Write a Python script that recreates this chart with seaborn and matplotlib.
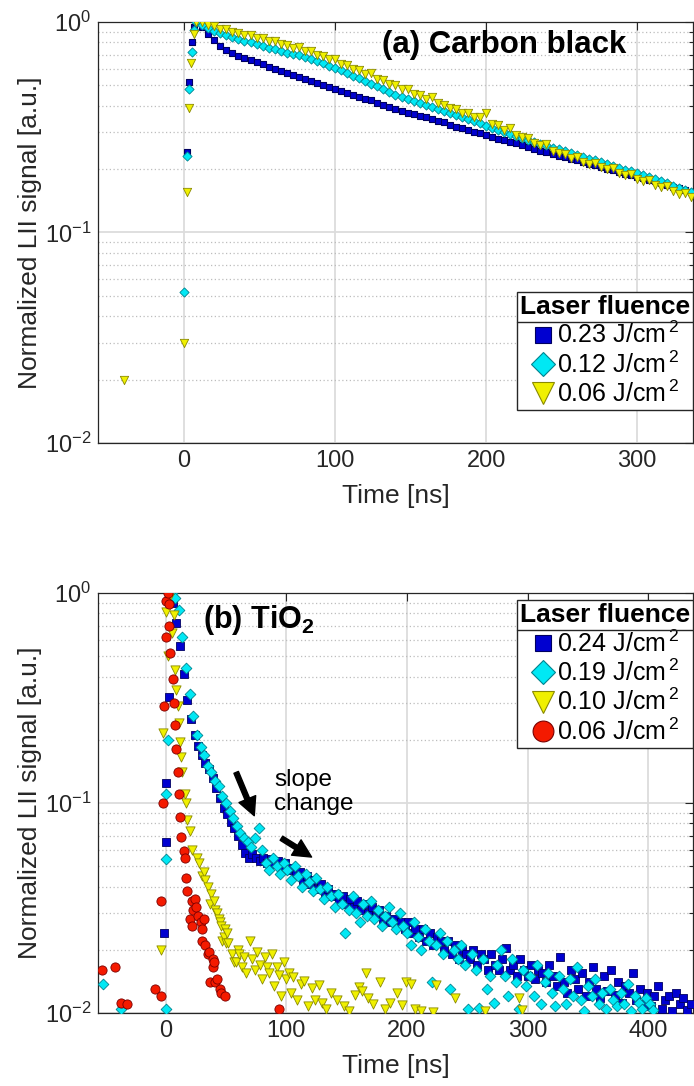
import numpy as np
import matplotlib
matplotlib.use("Agg")
import matplotlib.pyplot as plt
import seaborn as sns
from matplotlib.lines import Line2D
from matplotlib.ticker import LogLocator, NullFormatter, FixedLocator

# ---------------- (a) Carbon black ----------------
# decay part, one value every 4 ns starting at 8 ns
cb_start, cb_step = 8, 4
cb_023 = [1.0, 0.95, 0.88, 0.82, 0.77, 0.735, 0.71, 0.69, 0.675, 0.66, 0.645, 0.63, 0.612, 0.597,
          0.585, 0.57, 0.562, 0.55, 0.537, 0.525, 0.512, 0.50, 0.49, 0.48,
          0.47, 0.46, 0.452, 0.44, 0.432, 0.424, 0.412, 0.402, 0.393, 0.386, 0.377, 0.37, 0.364,
          0.356, 0.352, 0.345, 0.337, 0.333, 0.325, 0.318, 0.312, 0.307, 0.30, 0.296, 0.29,
          0.285, 0.279, 0.275, 0.269, 0.265, 0.259, 0.254, 0.25, 0.245, 0.241, 0.236, 0.232, 0.228,
          0.224, 0.221, 0.216, 0.212, 0.209, 0.204, 0.201, 0.197, 0.194, 0.19, 0.187, 0.184,
          0.181, 0.177, 0.175, 0.171, 0.168, 0.165, 0.162, 0.159, 0.156]
cb_012 = [1.0, 0.97, 0.94, 0.91, 0.89, 0.87, 0.85, 0.83, 0.815, 0.80, 0.785, 0.77, 0.755, 0.74,
          0.725, 0.715, 0.705, 0.695, 0.68, 0.665, 0.65, 0.635, 0.62, 0.605,
          0.588, 0.571, 0.555, 0.539, 0.523, 0.508, 0.494, 0.479, 0.466, 0.452, 0.44, 0.43, 0.421,
          0.412, 0.403, 0.394, 0.385, 0.377, 0.368, 0.36, 0.352, 0.345, 0.337, 0.33, 0.322,
          0.313, 0.307, 0.30, 0.294, 0.288, 0.282, 0.276, 0.27, 0.264, 0.259, 0.253, 0.248, 0.243,
          0.238, 0.233, 0.229, 0.224, 0.22, 0.215, 0.211, 0.207, 0.203, 0.199, 0.195, 0.191,
          0.187, 0.183, 0.179, 0.175, 0.171, 0.167, 0.163, 0.159, 0.155]
cb_006 = [1.0, 1.0, 0.97, 0.96, 0.93, 0.93, 0.90, 0.89, 0.87, 0.865, 0.84, 0.84, 0.81, 0.81,
          0.785, 0.78, 0.755, 0.76, 0.73, 0.725, 0.70, 0.69, 0.67, 0.665,
          0.632, 0.625, 0.597, 0.59, 0.565, 0.57, 0.534, 0.53, 0.505, 0.50, 0.478, 0.48, 0.454,
          0.45, 0.432, 0.44, 0.411, 0.405, 0.39, 0.385, 0.371, 0.37, 0.353, 0.355, 0.37,
          0.326, 0.325, 0.308, 0.312, 0.291, 0.283, 0.282, 0.267, 0.26, 0.262, 0.245, 0.238, 0.236,
          0.227, 0.228, 0.217, 0.212, 0.214, 0.204, 0.2, 0.202, 0.192, 0.188, 0.19, 0.18,
          0.176, 0.177, 0.168, 0.164, 0.166, 0.157, 0.153, 0.154, 0.147]
# rising edge / early points
cb_023_rise_t = [2, 3.3, 5, 6.5]
cb_023_rise_v = [0.24, 0.52, 0.80, 0.95]
cb_012_rise_t = [0, 2, 3.3, 5, 6.5]
cb_012_rise_v = [0.052, 0.23, 0.48, 0.72, 0.92]
cb_006_rise_t = [-40, 0, 2, 3.3, 4.5, 6.5]
cb_006_rise_v = [0.020, 0.030, 0.155, 0.39, 0.64, 0.88]
cb_labels = ["0.23 J/cm$^{\\,2}$", "0.12 J/cm$^{\\,2}$", "0.06 J/cm$^{\\,2}$"]

# ---------------- (b) TiO2 ----------------
# 0.24 J/cm2: one value every 3 ns starting at 3 ns
ti_024_start, ti_024_step = 3, 3
ti_024 = [1.0, 0.9, 0.72, 0.56, 0.41, 0.31, 0.25, 0.21, 0.186, 0.17, 0.155, 0.146, 0.131, 0.118,
          0.106, 0.095, 0.089, 0.081, 0.076, 0.07, 0.063, 0.058, 0.055, 0.057, 0.055, 0.053, 0.055,
          0.052, 0.054, 0.051, 0.053, 0.05, 0.052, 0.048, 0.049, 0.046, 0.047, 0.043, 0.045, 0.041,
          0.043, 0.039, 0.041, 0.037, 0.039, 0.036, 0.037, 0.034, 0.036, 0.033, 0.035, 0.032, 0.034,
          0.031, 0.033, 0.030, 0.032, 0.029, 0.031, 0.028, 0.029, 0.027, 0.028, 0.026, 0.027, 0.025,
          0.027, 0.024, 0.025, 0.023, 0.025, 0.022, 0.024, 0.021, 0.023, 0.022, 0.020, 0.022, 0.019,
          0.021, 0.018, 0.020, 0.019, 0.018, 0.020, 0.017, 0.019, 0.018, 0.016, 0.019, 0.017, 0.016,
          0.018, 0.0205, 0.016, 0.017, 0.015, 0.018, 0.016, 0.015, 0.017, 0.0145, 0.016, 0.0155,
          0.014, 0.017, 0.015, 0.0135, 0.0185, 0.014, 0.0125, 0.016, 0.0145, 0.013, 0.0155, 0.012,
          0.014, 0.0165, 0.013, 0.0118, 0.015, 0.0128, 0.016, 0.0122, 0.014, 0.0112, 0.0135, 0.0125,
          0.0155, 0.0115, 0.013, 0.011, 0.0125, 0.0108, 0.012, 0.0135, 0.0105, 0.0115, 0.012,
          0.0102, 0.0125, 0.011, 0.0118, 0.0103, 0.011]
ti_024_pre_t = [-1, 0, 0, 2.5]
ti_024_pre_v = [0.024, 0.065, 0.124, 0.32]
# 0.19 J/cm2: one value every 3 ns starting at 5 ns
ti_019_start, ti_019_step = 5, 3
ti_019 = [1.0, 0.95, 0.83, 0.62, 0.44, 0.33, 0.26, 0.21, 0.185, 0.17, 0.15, 0.14, 0.128, 0.12,
          0.108, 0.1, 0.092, 0.085, 0.078, 0.072, 0.068, 0.065, 0.062, 0.068, 0.076, 0.06, 0.052,
          0.048, 0.055, 0.05, 0.046, 0.052, 0.048, 0.043, 0.05, 0.045, 0.04, 0.046, 0.042, 0.038,
          0.044, 0.039, 0.035, 0.04, 0.036, 0.032, 0.037, 0.033, 0.024, 0.031, 0.036, 0.03, 0.027,
          0.033, 0.029, 0.034, 0.028, 0.031, 0.026, 0.029, 0.032, 0.027, 0.025, 0.03, 0.026, 0.024,
          0.021, 0.027, 0.023, 0.02, 0.025, 0.022, 0.014, 0.021, 0.024, 0.019, 0.022, 0.013, 0.02,
          0.018, 0.021, 0.017, 0.0104, 0.019, 0.016, 0.0106, 0.018, 0.013, 0.015, 0.0112, 0.017,
          0.02, 0.015, 0.012, 0.018, 0.014, 0.0105, 0.016, 0.0135, 0.015, 0.012, 0.017, 0.011,
          0.014, 0.0155, 0.0125, 0.0108, 0.015, 0.013, 0.011, 0.0145, 0.012, 0.0165, 0.0115,
          0.0102, 0.0135, 0.012, 0.0145, 0.011, 0.0125, 0.0105, 0.013, 0.0115, 0.0108, 0.0125,
          0.011, 0.0138, 0.0102, 0.012, 0.0112, 0.0105, 0.0118, 0.011, 0.0103]
ti_019_pre_t = [-52, -37, 0, 0, 0, 1.6]
ti_019_pre_v = [0.0137, 0.0105, 0.0105, 0.054, 0.11, 0.2]
# 0.10 J/cm2 (scattered points)
ti_010_t = [-4, -2, 0, 1.6, 3, 5, 6.6, 7.5, 9, 10, 11, 11.6, 12.6, 14, 16, 17, 18, 20, 22, 26, 28,
            30, 32, 33, 35, 37, 38, 40, 41, 43, 44, 45, 46, 47, 48, 49, 50, 51, 52, 55, 57, 58, 60,
            61, 63, 65, 67, 70, 72, 74, 76, 78, 80, 82, 84, 86, 88, 90, 92, 94, 96, 98, 100, 102,
            104, 106, 109, 112, 115, 118, 121, 124, 127, 130, 133, 137, 142, 148, 152, 157, 160,
            163, 166, 168, 172, 178, 182, 186, 192, 196, 199, 203, 207, 212, 222, 224, 240, 265,
            293, 295]
ti_010_v = [0.020, 0.215, 0.81, 0.50, 0.95, 0.645, 0.785, 0.43, 0.345, 0.29, 0.24, 0.195, 0.166,
            0.14, 0.11, 0.10, 0.083, 0.074, 0.060, 0.055, 0.052, 0.045, 0.047, 0.043, 0.040, 0.033,
            0.037, 0.034, 0.031, 0.030, 0.028, 0.027, 0.026, 0.022, 0.023, 0.025, 0.0215, 0.024,
            0.0215, 0.019, 0.0175, 0.0175, 0.02, 0.019, 0.0165, 0.0185, 0.0155, 0.022, 0.018, 0.016,
            0.0195, 0.017, 0.0145, 0.0185, 0.0165, 0.0155, 0.019, 0.0135, 0.0165, 0.0152, 0.012,
            0.0175, 0.0145, 0.0155, 0.0125, 0.0148, 0.0115, 0.0138, 0.0142, 0.0108, 0.0132, 0.0115,
            0.0136, 0.0112, 0.0105, 0.0125, 0.0115, 0.0108, 0.0102, 0.0122, 0.0133, 0.0128, 0.0155,
            0.0118, 0.011, 0.014, 0.0104, 0.0112, 0.0125, 0.0109, 0.014, 0.0138, 0.0104, 0.0102,
            0.0101, 0.0136, 0.0118, 0.0102, 0.0118, 0.0103]
# 0.06 J/cm2 (scattered points)
ti_006_t = [-53, -42, -37, -32, -9, -4, -4, -2.5, -1, 0, 0, 2, 3, 3, 4, 6.5, 7, 8, 9, 10, 11, 12,
            13, 15, 16, 17, 18, 20, 21.5, 22, 23, 24, 25, 27, 29, 30, 30.5, 32, 33, 35, 36, 37, 39,
            39, 40, 41, 43, 45, 46, 49, 94]
ti_006_v = [0.016, 0.0165, 0.0112, 0.011, 0.013, 0.034, 0.012, 0.10, 0.29, 0.92, 0.62, 1.0, 0.89,
            0.70, 0.52, 0.39, 0.30, 0.235, 0.18, 0.14, 0.11, 0.086, 0.069, 0.059, 0.055, 0.044,
            0.038, 0.028, 0.026, 0.034, 0.031, 0.035, 0.032, 0.029, 0.027, 0.025, 0.022, 0.028,
            0.021, 0.019, 0.0195, 0.014, 0.018, 0.0165, 0.0175, 0.014, 0.0145, 0.013, 0.0125,
            0.012, 0.0104]
ti_labels = ["0.24 J/cm$^{\\,2}$", "0.19 J/cm$^{\\,2}$", "0.10 J/cm$^{\\,2}$", "0.06 J/cm$^{\\,2}$"]

# marker colours (face, edge)
c_blue = ("#0000d0", "#000060")
c_cyan = ("#00e8f4", "#00838f")
c_yellow = ("#f0f000", "#8a8a00")
c_red = ("#f41a00", "#7a0000")

sns.set_style("white")
plt.rcParams["font.family"] = ["Liberation Sans", "DejaVu Sans"]
plt.rcParams.update({
    "mathtext.fontset": "custom",
    "mathtext.rm": "Liberation Sans",
    "mathtext.it": "Liberation Sans:italic",
    "mathtext.bf": "Liberation Sans:bold",
    "xtick.direction": "in",
    "ytick.direction": "in",
    "xtick.color": "#262626",
    "ytick.color": "#262626",
    "axes.edgecolor": "#262626",
    "text.color": "#262626",
    "axes.labelcolor": "#262626",
})

fig = plt.figure(figsize=(6.94, 10.86), dpi=100)
ax1 = fig.add_axes([0.1412, 0.5921, 0.8573, 0.3877])
ax2 = fig.add_axes([0.1412, 0.0672, 0.8573, 0.3867])


def scatter(ax, t, v, marker, size, colors, lw=0.6):
    sns.scatterplot(x=np.asarray(t, float), y=np.asarray(v, float), marker=marker, s=size,
                    color=colors[0], edgecolor=colors[1], linewidth=lw, ax=ax, zorder=3)


# panel (a)
t_cb = lambda vals: cb_start + cb_step * np.arange(len(vals))
scatter(ax1, list(cb_023_rise_t) + list(t_cb(cb_023)), cb_023_rise_v + cb_023, "s", 24, c_blue, 0.8)
scatter(ax1, list(cb_012_rise_t) + list(t_cb(cb_012)), cb_012_rise_v + cb_012, "D", 22, c_cyan)
scatter(ax1, list(cb_006_rise_t) + list(t_cb(cb_006)), cb_006_rise_v + cb_006, "v", 36, c_yellow)

# panel (b)
t024 = ti_024_start + ti_024_step * np.arange(len(ti_024))
t019 = ti_019_start + ti_019_step * np.arange(len(ti_019))
scatter(ax2, ti_024_pre_t + list(t024), ti_024_pre_v + ti_024, "s", 30, c_blue)
scatter(ax2, ti_019_pre_t + list(t019), ti_019_pre_v + ti_019, "D", 30, c_cyan)
scatter(ax2, ti_010_t, ti_010_v, "v", 44, c_yellow)
scatter(ax2, ti_006_t, ti_006_v, "o", 44, c_red)

for ax, xlim, xticks in [(ax1, (-57, 337), [0, 100, 200, 300]),
                         (ax2, (-56, 437), [0, 100, 200, 300, 400])]:
    ax.set_yscale("log")
    ax.set_ylim(0.01, 1)
    ax.set_xlim(*xlim)
    ax.xaxis.set_major_locator(FixedLocator(xticks))
    ax.yaxis.set_major_locator(LogLocator(base=10, numticks=5))
    ax.yaxis.set_minor_locator(LogLocator(base=10, subs=np.arange(2, 10), numticks=20))
    ax.yaxis.set_minor_formatter(NullFormatter())
    ax.set_axisbelow(True)
    ax.grid(True, which="major", color="#dcdcdc", lw=1.3, ls="-")
    ax.grid(True, which="minor", axis="y", color="#bdbdbd", lw=0.9, ls=(0, (1, 2)))
    ax.tick_params(which="both", top=True, right=True, labelsize=17, width=0.8)
    ax.tick_params(which="major", length=6, pad=5)
    ax.tick_params(which="minor", length=3)
    for sp in ax.spines.values():
        sp.set_linewidth(0.9)
    ax.set_xlabel("Time [ns]", fontsize=19, labelpad=9)
    ax.set_ylabel("Normalized LII signal [a.u.]", fontsize=19, labelpad=2)

ax1.text(0.478, 0.945, "(a) Carbon black", transform=ax1.transAxes, fontsize=22.5,
         fontweight="bold", ha="left", va="center", color="black")
ax2.text(0.176, 0.935, "(b) TiO$_\\mathbf{2}$", transform=ax2.transAxes, fontsize=22,
         fontweight="bold", ha="left", va="center", color="black")

# slope change annotation
ax2.text(90, 0.113, "slope\nchange", fontsize=17.5, ha="left", va="center", color="black",
         linespacing=1.1)
for tail, head in [((58.5, 0.14), (73.5, 0.087)), ((96, 0.068), (121, 0.0553))]:
    ax2.annotate("", xy=head, xytext=tail,
                 arrowprops=dict(facecolor="black", edgecolor="black", width=3.5,
                                 headwidth=13, headlength=13, shrink=0))


def make_legend(ax, specs, labels, loc, anchor):
    handles = [Line2D([], [], ls="none", marker=m, markersize=ms, markerfacecolor=c[0],
                      markeredgecolor=c[1], markeredgewidth=0.8) for m, ms, c in specs]
    leg = ax.legend(handles, labels, title="Laser fluence", loc=loc, bbox_to_anchor=anchor,
                    frameon=True, fancybox=False, edgecolor="#262626", framealpha=1,
                    fontsize=18, title_fontsize=19, handletextpad=0.05, handlelength=1.0,
                    labelspacing=0.12, borderpad=0.12, borderaxespad=0)
    leg.get_title().set_fontweight("bold")
    leg.get_title().set_color("black")
    for txt in leg.get_texts():
        txt.set_color("black")
    leg.get_frame().set_linewidth(1.0)
    leg.set_zorder(10)
    return leg


leg1 = make_legend(ax1, [("s", 12, c_blue), ("D", 12, c_cyan), ("v", 16, c_yellow)],
                   cb_labels, "lower right", (1.0, 0.078))
leg2 = make_legend(ax2, [("s", 12, c_blue), ("D", 12, c_cyan), ("v", 16, c_yellow),
                         ("o", 15, c_red)], ti_labels, "upper right", (1.0, 0.983))

# separator line under the legend titles
fig.canvas.draw()
renderer = fig.canvas.get_renderer()
W, H = fig.bbox.width, fig.bbox.height
for leg in (leg1, leg2):
    tb = leg.get_title().get_window_extent(renderer)
    fb = leg.get_frame().get_window_extent(renderer)
    y = (tb.y0 - 3) / H
    fig.add_artist(Line2D([fb.x0 / W, fb.x1 / W], [y, y], transform=fig.transFigure,
                          color="#262626", lw=1.0, zorder=20))

fig.savefig("out.png", dpi=100)
